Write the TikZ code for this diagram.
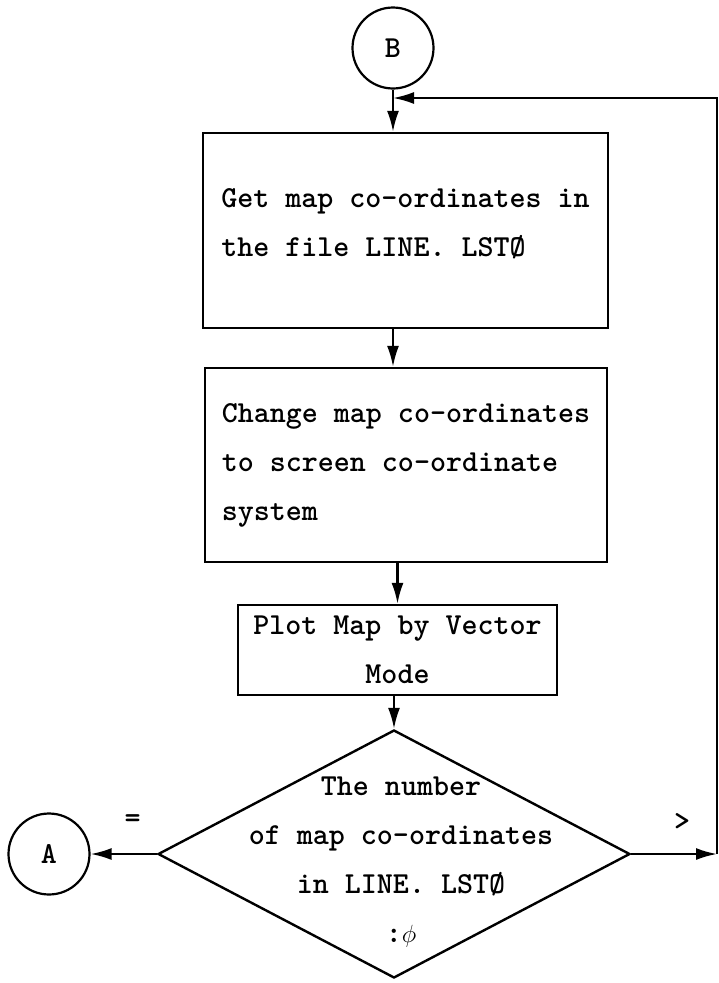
\documentclass[tikz,border=0pt]{standalone}
\usetikzlibrary{arrows.meta,shapes.geometric}
\def\flowfont{\fontsize{30.5}{49}\selectfont\ttfamily\bfseries}
\def\connfont{\fontsize{30.5}{34}\selectfont\ttfamily\bfseries}

\begin{document}
\begin{tikzpicture}[x=1pt, y=-1pt,
		box/.style={draw, line width=2.4pt, inner sep=0pt, font=\flowfont},
		conn/.style={draw, circle, line width=2.2pt, minimum size=81pt, inner sep=0pt, font=\connfont},
		flow/.style={line width=2.2pt, -{Latex[length=21pt,width=12pt]}}]
			%%%%% START %%%%%
			
			\useasboundingbox (0, 0) rectangle (719, 983);
			
			\node[conn] (b) at (393, 48) {B};
			
			\node[box, minimum width=405pt, minimum height=195pt] (get) at (405.5, 230.5) {\raisebox{2pt}[0pt][0pt]{\begin{tabular}{@{}l@{}}Get map co-ordinates in\\the file LINE. LSTØ\end{tabular}}};
			\node[box, minimum width=402pt, minimum height=194pt, align=left] (change) at (406, 465) {Change map co-ordinates\\to screen co-ordinate\\system};
			\node[box, minimum width=319pt, minimum height=90pt, align=center] (plot) at (397.5, 650) {Plot Map by Vector\\Mode};
			
			\node[draw, diamond, line width=2.4pt, minimum width=472pt, minimum height=248pt, inner sep=0pt] (test) at (394, 854) {};
			\node[font=\flowfont, align=center] (testtxt) at (401, 862) {The number\\of map co-ordinates\\in LINE. LSTØ\\:$\phi$};
			
			\node[conn] (a) at (49, 854) {A};
			
			\coordinate (turn) at (717, 854);
			\coordinate (join) at (393, 98);
			
			\draw[flow] (b.south) -- (b.south |- get.north);
			\draw[flow] (get.south -| b) -- (change.north -| b);
			\draw[flow] (change.south -| plot) -- (plot.north);
			\draw[flow] (plot.south -| test) -- (test.north);
			
			\draw[flow] (test.west) -- node[midway, xshift=9pt, yshift=33pt, font=\connfont] {=} (a.east);
			\draw[flow] (test.east) -- node[midway, xshift=8pt, yshift=32pt, font=\connfont] {>} (turn);
			\draw[flow] (turn) |- (join);
			
			%%%%% END %%%%%
\end{tikzpicture}
\end{document}
